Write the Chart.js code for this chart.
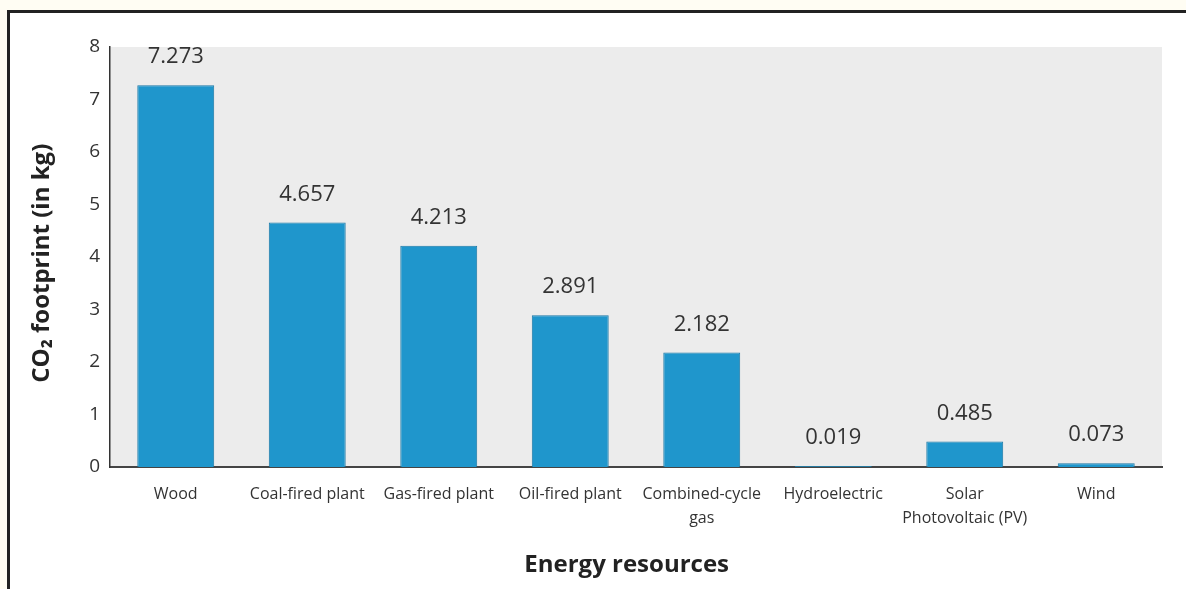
<!DOCTYPE html>
<html>
<head>
<meta charset="utf-8">
<script src="https://cdn.jsdelivr.net/npm/chart.js@4"></script>
<style>
  html, body { margin: 0; padding: 0; background: #fffdf3; }
  #frame {
    position: absolute; left: 7px; top: 10px; width: 1180px; height: 580px;
    background: #fff; border-left: 3px solid #222; border-top: 3px solid #222;
  }
  #wrap { position: absolute; left: 0; top: 0; width: 1186px; height: 589px; }
</style>
</head>
<body>
<div id="frame"></div>
<div id="wrap"><canvas id="chart"></canvas></div>
<script>
// --- Data ---
const categories = ['Wood', 'Coal-fired plant', 'Gas-fired plant', 'Oil-fired plant',
  ['Combined-cycle', 'gas'], 'Hydroelectric', ['Solar', 'Photovoltaic (PV)'], 'Wind'];
const footprint = [7.273, 4.657, 4.213, 2.891, 2.182, 0.019, 0.485, 0.073];
const valueLabels = ['7.273', '4.657', '4.213', '2.891', '2.182', '0.019', '0.485', '0.073'];

const FONT = '"Open Sans", "Noto Sans", sans-serif';

// gray plot background
const plotBg = {
  id: 'plotBg',
  beforeDraw(chart) {
    const { ctx, chartArea: a } = chart;
    ctx.save();
    ctx.fillStyle = '#ececec';
    ctx.fillRect(a.left, a.top, a.right - a.left, a.bottom - a.top);
    ctx.restore();
  }
};

// value labels over bars
const barValues = {
  id: 'barValues',
  afterDatasetsDraw(chart) {
    const { ctx } = chart;
    const meta = chart.getDatasetMeta(0);
    ctx.save();
    ctx.font = '22px ' + FONT;
    ctx.fillStyle = '#333';
    ctx.textAlign = 'center';
    ctx.textBaseline = 'middle';
    meta.data.forEach((bar, i) => {
      ctx.fillText(valueLabels[i], bar.x, bar.y - 28);
    });
    ctx.restore();
  }
};

new Chart(document.getElementById('chart'), {
  type: 'bar',
  data: {
    labels: categories,
    datasets: [{
      data: footprint,
      backgroundColor: '#1f96cc',
      borderColor: '#1a78a6',
      borderWidth: 1,
      barPercentage: 0.585,
      categoryPercentage: 1
    }]
  },
  options: {
    responsive: true,
    maintainAspectRatio: false,
    animation: false,
    layout: { padding: { left: 0, right: 24, top: 47, bottom: 0 } },
    plugins: { legend: { display: false }, tooltip: { enabled: false } },
    scales: {
      x: {
        grid: { display: false, drawTicks: false },
        border: { display: true, color: '#444', width: 2 },
        ticks: { color: '#333', font: { family: FONT, size: 16, lineHeight: 1.5 }, padding: 15, maxRotation: 0, autoSkip: false },
        title: { display: true, text: 'Energy resources   ', color: '#222',
                 font: { family: FONT, size: 24, weight: 'bold' }, padding: { bottom: 9 } },
        afterFit(scale) { scale.height = 122; }
      },
      y: {
        min: 0, max: 8,
        grid: { display: false, drawTicks: false },
        border: { display: true, color: '#333', width: 1.5 },
        ticks: { stepSize: 1, color: '#333', font: { family: FONT, size: 19 }, padding: 10 },
        title: { display: true, text: 'CO\u2082 footprint (in kg)  ', color: '#222',
                 font: { family: FONT, size: 24, weight: 'bold' }, padding: { top: 28 } },
        afterFit(scale) { scale.width = 110; }
      }
    }
  },
  plugins: [plotBg, barValues]
});
</script>
</body>
</html>
